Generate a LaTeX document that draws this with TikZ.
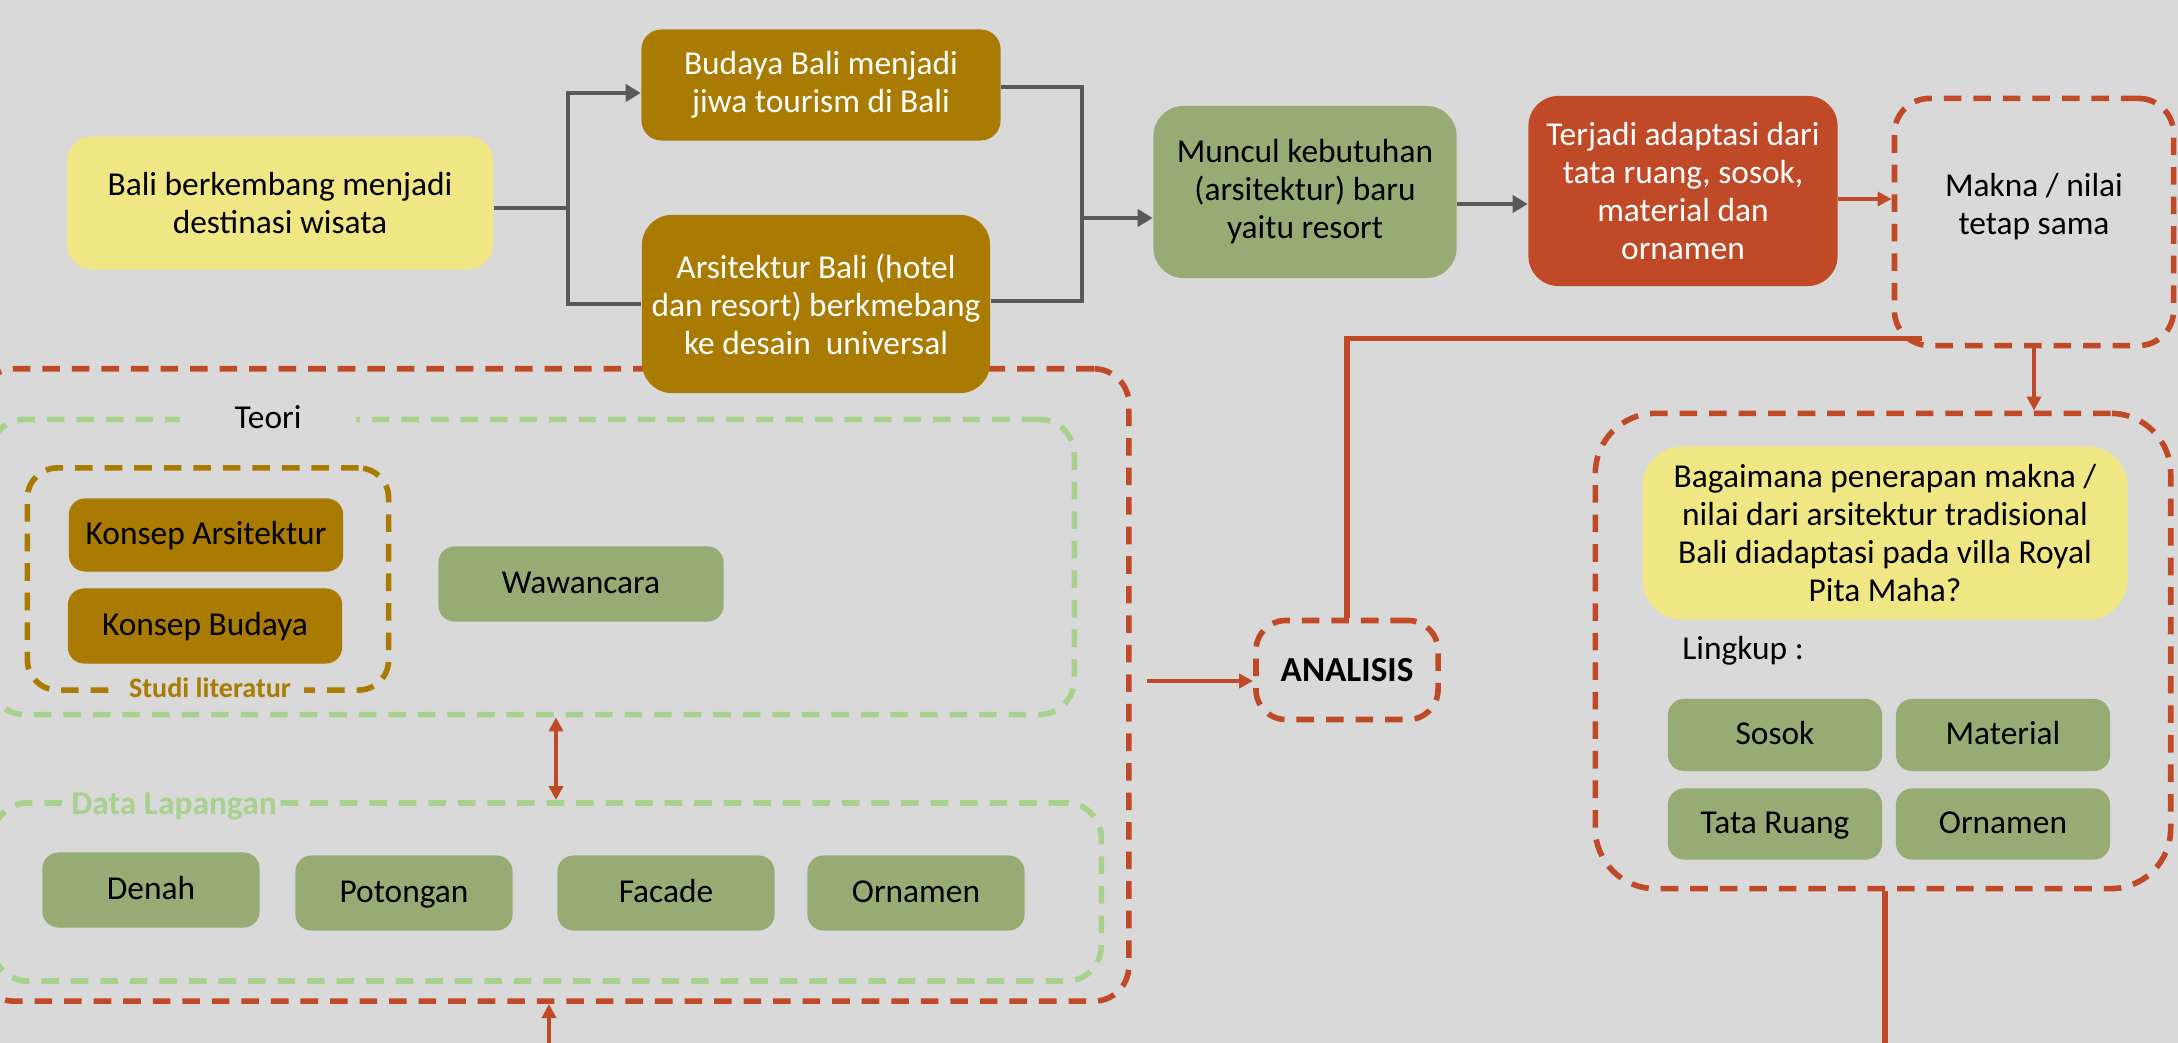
\documentclass[tikz,border=0pt]{standalone}
\usepackage{fontspec}
\setmainfont{Carlito}
\usetikzlibrary{arrows.meta,positioning}

\definecolor{bgGray}{HTML}{D9D9D9}
\definecolor{softYellow}{HTML}{F1E684}
\definecolor{baliGold}{HTML}{A97B03}
\definecolor{sageGreen}{HTML}{97AC75}
\definecolor{rustRed}{HTML}{C04A27}
\definecolor{paleGreen}{HTML}{A9D18E}
\definecolor{flowGray}{HTML}{595959}

\begin{document}
\begin{tikzpicture}[
  x=0.01cm, y=-0.01cm,
  font=\fontsize{9.5}{10.8}\selectfont,
  card/.style={rounded corners=2mm, align=center, inner sep=2pt, text=black},
  yel/.style={card, fill=softYellow},
  gold/.style={card, fill=baliGold, text=white},
  sage/.style={card, fill=sageGreen, rounded corners=1.6mm},
  chip/.style={sage, text height=1.5ex, text depth=0.35ex},
  hot/.style={card, fill=rustRed, text=white, rounded corners=3mm},
  redframe/.style={draw=rustRed, line width=1.6pt, dash pattern=on 5pt off 3.4pt, rounded corners=3.5mm, inner sep=0pt},
  greenframe/.style={draw=paleGreen, line width=1.6pt, dash pattern=on 5pt off 3.4pt, rounded corners=3.5mm, inner sep=0pt},
  goldframe/.style={draw=baliGold, line width=1.6pt, dash pattern=on 5pt off 3.4pt, rounded corners=3mm, inner sep=0pt},
  tag/.style={fill=bgGray, inner sep=1pt, font=\fontsize{9.5}{10.8}\selectfont\bfseries},
  flow/.style={draw=flowGray, line width=1.1pt, -{Triangle[length=1.5mm,width=1.7mm]}},
  redflow/.style={draw=rustRed, line width=1pt, -{Triangle[length=1.4mm,width=1.4mm]}},
]
\fill[bgGray] (0,0) rectangle (2178,1043);
\useasboundingbox (0,0) rectangle (2178,1043);

% Frames
\node[redframe, minimum width=11.49cm, minimum height=6.32cm] (metode) at (554,685) {};
\node[greenframe, minimum width=10.84cm, minimum height=2.95cm] (teori) at (532,567) {};
\node[tag, minimum width=1.75cm, font=\fontsize{9.5}{10.8}\selectfont] (teoriTag) at (268,417) {Teori};
\node[goldframe, minimum width=3.61cm, minimum height=2.22cm] (studi) at (208,579) {};
\node[tag, text=baliGold, minimum width=1.87cm, font=\fontsize{8}{9}\selectfont\bfseries] (studiTag) at (210,688) {Studi literatur};
\node[greenframe, minimum width=11.08cm, minimum height=1.78cm] (lapangan) at (547,892) {};
\node[tag, text=paleGreen] (lapanganTag) at (174,806) {Data Lapangan};

% Top row
\node[yel, minimum width=4.26cm, minimum height=1.33cm, rounded corners=2.5mm] (bali) at (280,203) {Bali berkembang menjadi\\destinasi wisata};
\node[gold, minimum width=3.59cm, minimum height=1.11cm] (budaya) at (821,85) {Budaya Bali menjadi\\jiwa tourism di Bali};
\node[gold, minimum width=3.48cm, minimum height=1.78cm, rounded corners=3mm] (arsi) at (816,304) {Arsitektur Bali (hotel\\dan resort) berkmebang\\ke desain\ \ universal};
\node[sage, minimum width=3.03cm, minimum height=1.72cm, rounded corners=3mm] (muncul) at (1305,192) {Muncul kebutuhan\\(arsitektur) baru\\yaitu resort};
\node[hot, minimum width=3.09cm, minimum height=1.90cm] (terjadi) at (1683,191) {Terjadi adaptasi dari\\tata ruang, sosok,\\material dan\\ornamen};
\node[redframe, minimum width=2.79cm, minimum height=2.47cm] (makna) at (2034,222) {};
\node[align=center] (maknaText) at (2034,207) {Makna / nilai\\tetap sama};

% Flow of the top row
\coordinate (split) at (568,208);
\coordinate (merge) at (1082,218);
\coordinate (relay) at (0,204);
\draw[draw=flowGray, line width=1.1pt] (bali.east |- split) -- (split);
\draw[flow] (split) |- ([yshift=-0.08cm]budaya.west);
\draw[draw=flowGray, line width=1.1pt] (split) |- (arsi.west);
\draw[draw=flowGray, line width=1.1pt] ([yshift=-0.02cm]budaya.east) -| (merge);
\draw[draw=flowGray, line width=1.1pt] ([yshift=0.03cm]arsi.east) -| (merge);
\draw[flow] (merge) -- (muncul.west |- merge);
\draw[flow] (muncul.east |- relay) -- (terjadi.west |- relay);
\draw[redflow] (terjadi.east |- 0,199) -- (makna.west |- 0,199);

% Teori
\node[gold, text=black, text height=1.5ex, text depth=0.35ex, minimum width=2.74cm, minimum height=0.73cm, rounded corners=1.6mm] (konsepArs) at (206,535) {Konsep Arsitektur};
\node[gold, text=black, text height=1.5ex, text depth=0.35ex, minimum width=2.74cm, minimum height=0.75cm, rounded corners=1.6mm] (konsepBud) at (205,626) {Konsep Budaya};
\node[chip, minimum width=2.85cm, minimum height=0.75cm] (wawancara) at (581,584) {Wawancara};

% Data lapangan
\node[chip, minimum width=2.17cm, minimum height=0.75cm] (denah) at (151,890) {Denah};
\node[chip, minimum width=2.17cm, minimum height=0.75cm] (potongan) at (404,893) {Potongan};
\node[chip, minimum width=2.17cm, minimum height=0.75cm] (facade) at (666,893) {Facade};
\node[chip, minimum width=2.17cm, minimum height=0.75cm] (ornamenLap) at (916,893) {Ornamen};

\coordinate (pair) at (556,0);
\draw[draw=rustRed, line width=1pt, {Triangle[length=1.4mm,width=1.4mm]}-{Triangle[length=1.4mm,width=1.4mm]}] (teori.south -| pair) -- (lapangan.north -| pair);
\coordinate (bottomIn) at (549,1043);
\draw[redflow] (bottomIn) -- (metode.south -| bottomIn);

% Analisis
\node[redframe, minimum width=1.82cm, minimum height=0.99cm, rounded corners=3mm, font=\fontsize{10}{12}\selectfont\bfseries] (analisis) at (1347,670) {ANALISIS};
\draw[redflow] ([xshift=0.15cm]metode.east |- 0,681) -- (analisis.west |- 0,681);
\draw[draw=rustRed, line width=1.6pt] (analisis.north) |- ([xshift=0.3cm, yshift=0.1cm]makna.south west);

% Rumusan
\node[redframe, minimum width=5.75cm, minimum height=4.75cm, rounded corners=6mm] (rumusan) at (1883,651) {};
\draw[redflow] (makna.south) -- (makna.south |- rumusan.north);
\node[yel, minimum width=4.85cm, minimum height=1.73cm, rounded corners=4mm] (soal) at (1885,533) {Bagaimana penerapan makna /\\nilai dari arsitektur tradisional\\Bali diadaptasi pada villa Royal\\Pita Maha?};
\node[anchor=west] (lingkup) at (1670,651) {Lingkup :};
\node[chip, minimum width=2.14cm, minimum height=0.72cm] (sosok) at (1775,735) {Sosok};
\node[chip, minimum width=2.14cm, minimum height=0.72cm] (material) at (2003,735) {Material};
\node[chip, minimum width=2.14cm, minimum height=0.71cm] (tataRuang) at (1775,824) {Tata Ruang};
\node[chip, minimum width=2.14cm, minimum height=0.71cm] (ornamenLing) at (2003,824) {Ornamen};
\coordinate (bottomOut) at (1885,1043);
\draw[draw=rustRed, line width=1.6pt] (rumusan.south -| bottomOut) -- (bottomOut);
\end{tikzpicture}
\end{document}
